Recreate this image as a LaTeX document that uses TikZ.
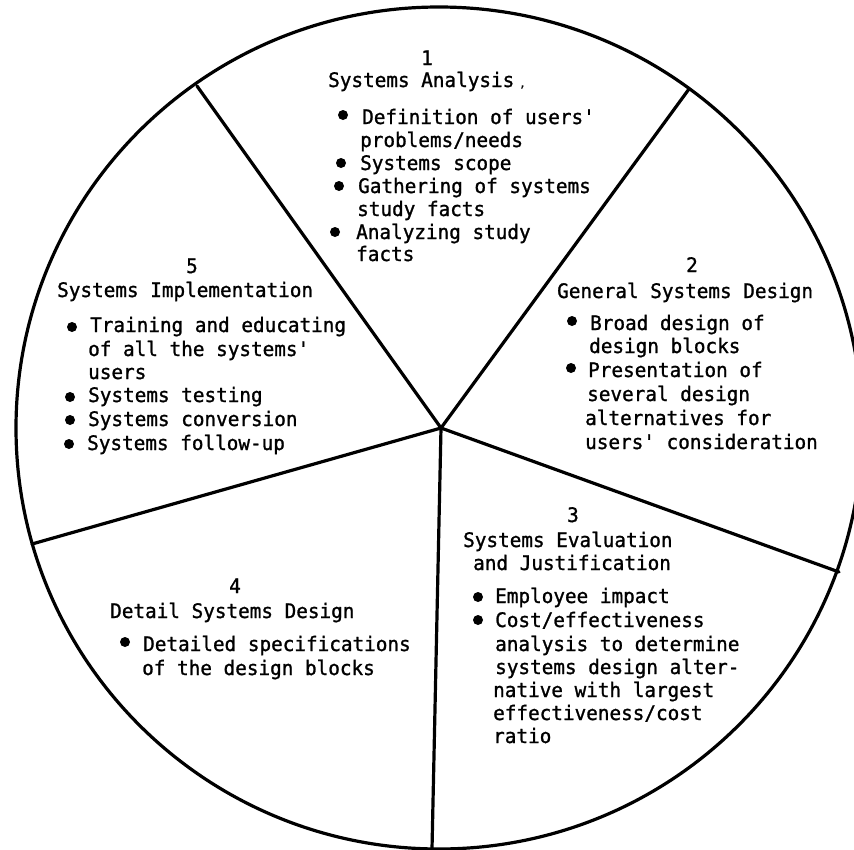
\documentclass[tikz,border=0pt]{standalone}
\usepackage{fontspec}
\setmonofont{DejaVu Sans Mono}[FakeStretch=0.966,FakeBold=1.2]
\tikzset{
  ln/.style={line width=3.2pt, line cap=round},
  tx/.style={anchor=base west, inner sep=0pt, text height=14pt, text depth=4pt, font=\ttfamily\fontsize{20}{23}\selectfont},
  num/.style={anchor=base, inner sep=0pt, text height=14pt, text depth=0pt, font=\ttfamily\fontsize{20}{23}\selectfont},
  bul/.style={circle, fill=black, inner sep=0pt, minimum size=10pt}
}
\begin{document}
\begin{tikzpicture}[x=1pt,y=-1pt]
\useasboundingbox (0,0) rectangle (854,849);
% outline and spokes
\draw[ln] (439,428) ellipse [x radius=423pt, y radius=421pt];
\coordinate (hub) at (441,428);
\coordinate (e1) at (197,86);
\coordinate (e2) at (689,89);
\coordinate (e3) at (839,572);
\coordinate (e4) at (432,849);
\coordinate (e5) at (32,544);
\draw[ln] (hub) -- (e1);
\draw[ln] (hub) -- (e2);
\draw[ln] (hub) -- (e3);
\draw[ln] (hub) -- (e4);
\draw[ln] (hub) -- (e5);

% sector 1
\node[num] (n1) at (427,65) {1};
\node[tx] (t1) at (328,87) {Systems Analysis\hspace{5pt}{\fontsize{11}{11}\selectfont,}};
\node[bul] (b11) at (343,115) {};
\node[tx] (l11) at (362,124) {Definition of users'};
\node[tx] (l12) at (360,147) {problems/needs};
\node[bul] (b12) at (341,163) {};
\node[tx] (l13) at (360,170) {Systems scope};
\node[bul] (b13) at (339,186) {};
\node[tx] (l14) at (358,193) {Gathering of systems};
\node[tx] (l15) at (357,216) {study facts};
\node[bul] (b14) at (335,232) {};
\node[tx] (l16) at (356,239) {Analyzing study};
\node[tx] (l17) at (356,261) {facts};

% sector 2
\node[num] (n2) at (692,272) {2};
\node[tx] (t2) at (557,298) {General Systems Design};
\node[bul] (b21) at (572,321) {};
\node[tx] (l21) at (590,330) {Broad design of};
\node[tx] (l22) at (589,353) {design blocks};
\node[bul] (b22) at (571,368) {};
\node[tx] (l23) at (588,377) {Presentation of};
\node[tx] (l24) at (587,401) {several design};
\node[tx] (l25) at (585,425) {alternatives for};
\node[tx] (l26) at (585,449) {users' consideration};

% sector 3
\node[num] (n3) at (573,522) {3};
\node[tx] (t3a) at (463,547) {Systems Evaluation};
\node[tx] (t3b) at (473,570) {and Justification};
\node[bul] (b31) at (478,597) {};
\node[tx] (l31) at (495,603) {Employee impact};
\node[bul] (b32) at (478,620) {};
\node[tx] (l32) at (495,627) {Cost/effectiveness};
\node[tx] (l33) at (495,651) {analysis to determine};
\node[tx] (l34) at (495,674) {systems design alter-};
\node[tx] (l35) at (493,697) {native with largest};
\node[tx] (l36) at (493,720) {effectiveness/cost};
\node[tx] (l37) at (493,743) {ratio};

% sector 4
\node[num] (n4) at (235,593) {4};
\node[tx] (t4) at (110,618) {Detail Systems Design};
\node[bul] (b41) at (125,642) {};
\node[tx] (l41) at (143,651) {Detailed specifications};
\node[tx] (l42) at (142,675) {of the design blocks};

% sector 5
\node[num] (n5) at (192,273) {5};
\node[tx] (t5) at (57,297) {Systems Implementation};
\node[bul] (b51) at (72,327) {};
\node[tx] (l51) at (90,332) {Training and educating};
\node[tx] (l52) at (88,356) {of all the systems'};
\node[tx] (l53) at (88,379) {users};
\node[bul] (b52) at (70,397) {};
\node[tx] (l54) at (88,402) {Systems testing};
\node[bul] (b53) at (70,420) {};
\node[tx] (l55) at (88,426) {Systems conversion};
\node[bul] (b54) at (69,444) {};
\node[tx] (l56) at (87,450) {Systems follow-up};
\end{tikzpicture}
\end{document}
